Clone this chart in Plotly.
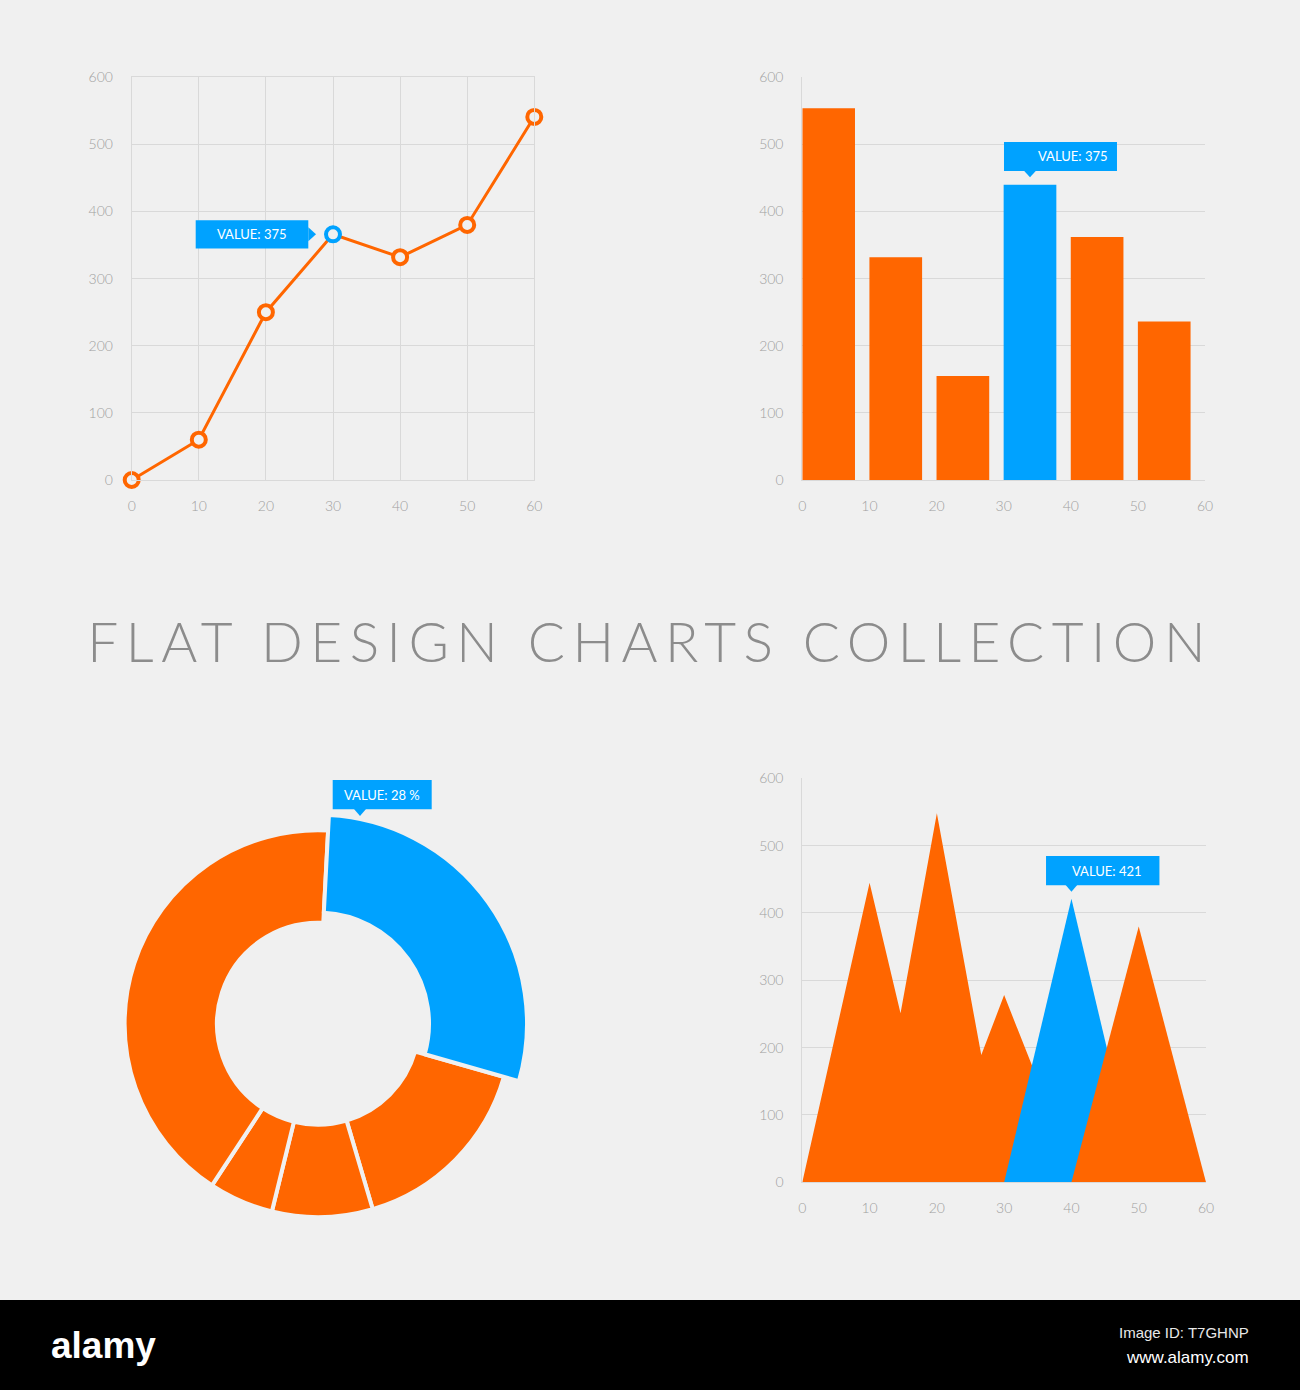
import plotly.graph_objects as go

W, H = 1300, 1390
BG = "#f0f0f0"
ORANGE = "#ff6600"
BLUE = "#00a2ff"
CLEAR = "rgba(0,0,0,0)"
GRID = "#d9d9d9"
TICK = "#a0a0a0"
FONT = "Lato"

# ---------------- data ----------------
x_ticks = [0, 10, 20, 30, 40, 50, 60]
y_ticks = [0, 100, 200, 300, 400, 500, 600]

line_x = [0, 10, 20, 30, 40, 50, 60]
line_y = [0, 60, 250, 366, 332, 380, 541]
line_hi = 3
line_label = "VALUE: 375"

bar_x = [0, 10, 20, 30, 40, 50]
bar_y = [554, 332, 155, 440, 362, 236]
bar_width = 7.85
bar_hi = 3
bar_label = "VALUE: 375"

donut_values = [28.6, 16.0, 8.4, 5.4, 41.6]
donut_hi = 0
donut_label = "VALUE: 28 %"

area1_x = [0, 10, 14.6, 20, 26.6, 30, 41]
area1_y = [0, 445, 251, 548, 189, 278, 0]
area2_x = [30, 40, 50]
area2_y = [0, 421, 0]
area3_x = [40, 50, 60]
area3_y = [0, 380, 0]
area_hi_x = 40
area_hi_y = 421
area_label = "VALUE: 421"

title_text = "FLAT DESIGN CHARTS COLLECTION"


def PX(x):
    return x / W


def PY(y):
    return 1 - y / H


tickfont = dict(family=FONT, size=14, color=TICK, weight=300)

fig = go.Figure()

# ---- chart 1 : line ----
fig.add_trace(go.Scatter(
    x=line_x, y=line_y, mode="lines+markers", xaxis="x", yaxis="y",
    line=dict(color=ORANGE, width=3),
    marker=dict(size=14, color=BG, symbol="circle",
                line=dict(width=4, color=[BLUE if i == line_hi else ORANGE for i in range(len(line_x))])),
    cliponaxis=False, hoverinfo="skip", showlegend=False))

# ---- chart 2 : bars ----
fig.add_trace(go.Bar(
    x=bar_x, y=bar_y, width=bar_width, offset=0, xaxis="x2", yaxis="y2",
    marker=dict(color=[BLUE if i == bar_hi else ORANGE for i in range(len(bar_x))], line=dict(width=0)),
    hoverinfo="skip", showlegend=False))

# ---- chart 3 : donut (base ring + enlarged highlighted ring) ----
cx, cy = 318, 1023.7
RA, RB = 193.4, 209.0
n = len(donut_values)
ring_base = dict(values=donut_values, sort=False, direction="clockwise", rotation=3,
                 textinfo="none", hoverinfo="skip", showlegend=False)
fig.add_trace(go.Pie(
    hole=101 / RA,
    marker=dict(colors=[CLEAR if i == donut_hi else ORANGE for i in range(n)],
                line=dict(color=BG, width=[0 if i == donut_hi else 4 for i in range(n)])),
    domain=dict(x=[PX(cx - RA), PX(cx + RA)], y=[PY(cy + RA), PY(cy - RA)]), **ring_base))
fig.add_trace(go.Pie(
    hole=111 / RB,
    marker=dict(colors=[BLUE if i == donut_hi else CLEAR for i in range(n)],
                line=dict(color=BG, width=[4 if i == donut_hi else 0 for i in range(n)])),
    domain=dict(x=[PX(cx - RB), PX(cx + RB)], y=[PY(cy + RB), PY(cy - RB)]), **ring_base))

# ---- chart 4 : area ----
for xs, ys, col in [(area1_x, area1_y, ORANGE), (area2_x, area2_y, BLUE), (area3_x, area3_y, ORANGE)]:
    fig.add_trace(go.Scatter(x=xs, y=ys, mode="none", fill="toself", fillcolor=col,
                             xaxis="x3", yaxis="y3", hoverinfo="skip", showlegend=False))

common_x = dict(range=[0, 60], tickvals=x_ticks, ticks="", tickfont=tickfont, zeroline=False,
                ticklabelstandoff=13, fixedrange=True, automargin=False)
common_y = dict(range=[0, 600], tickvals=y_ticks, ticks="", tickfont=tickfont, zeroline=False,
                ticklabelstandoff=15, fixedrange=True, automargin=False)

fig.update_layout(
    width=W, height=H, margin=dict(l=0, r=0, t=0, b=0, pad=0, autoexpand=False),
    paper_bgcolor=BG, plot_bgcolor="rgba(0,0,0,0)",
    font=dict(family=FONT),
    xaxis=dict(domain=[PX(131.7), PX(534.3)], anchor="y", showgrid=True, gridcolor=GRID,
               showline=True, mirror=True, linecolor=GRID, **common_x),
    yaxis=dict(domain=[PY(480), PY(77.3)], anchor="x", showgrid=True, gridcolor=GRID,
               showline=True, mirror=True, linecolor=GRID, **common_y),
    xaxis2=dict(domain=[PX(802.3), PX(1205)], anchor="y2", showgrid=False,
                showline=True, linecolor=GRID, **common_x),
    yaxis2=dict(domain=[PY(480), PY(77.3)], anchor="x2", showgrid=True, gridcolor=GRID,
                showline=True, linecolor=GRID, **common_y),
    xaxis3=dict(domain=[PX(802.3), PX(1206)], anchor="y3", showgrid=False,
                showline=True, linecolor=GRID, **common_x),
    yaxis3=dict(domain=[PY(1182.3), PY(778.3)], anchor="x3", showgrid=True, gridcolor=GRID,
                showline=True, linecolor=GRID, **common_y),
)

shapes = []
annos = []
lblfont = dict(family=FONT, size=13, color="white", weight=400)


def tip_rect(xref, yref, xa, ya, x0, x1, y0, y1):
    return dict(type="rect", xref=xref, yref=yref, xsizemode="pixel", ysizemode="pixel",
                xanchor=xa, yanchor=ya, x0=x0, x1=x1, y0=y0, y1=y1,
                fillcolor=BLUE, line=dict(width=0), layer="above")


def tip_path(xref, yref, xa, ya, path):
    return dict(type="path", xref=xref, yref=yref, xsizemode="pixel", ysizemode="pixel",
                xanchor=xa, yanchor=ya, path=path,
                fillcolor=BLUE, line=dict(width=0), layer="above")


# tooltip chart 1 (left of highlighted point)
hx, hy = line_x[line_hi], line_y[line_hi]
shapes.append(tip_rect("x", "y", hx, hy, -137.3, -24.7, -14.2, 14.2))
shapes.append(tip_path("x", "y", hx, hy, "M -24.7 7 L -17 0 L -24.7 -7 Z"))
annos.append(dict(xref="x", yref="y", x=hx, y=hy, xshift=-81, yshift=0, text=line_label,
                  showarrow=False, font=lblfont))

# tooltip chart 2 (above highlighted bar)
bx, by = bar_x[bar_hi] + bar_width / 2, bar_y[bar_hi]
shapes.append(tip_rect("x2", "y2", bx, by, -26, 87, 13.8, 42.8))
shapes.append(tip_path("x2", "y2", bx, by, "M -6 14 L 0 7.5 L 6 14 Z"))
annos.append(dict(xref="x2", yref="y2", x=bx, y=by, xshift=43, yshift=28.3, text=bar_label,
                  showarrow=False, font=lblfont))

# tooltip chart 4 (above blue peak)
shapes.append(tip_rect("x3", "y3", area_hi_x, area_hi_y, -25.4, 88, 13.5, 42.8))
shapes.append(tip_path("x3", "y3", area_hi_x, area_hi_y, "M -6 14 L 0 7 L 6 14 Z"))
annos.append(dict(xref="x3", yref="y3", x=area_hi_x, y=area_hi_y, xshift=35.6, yshift=27.8,
                  text=area_label, showarrow=False, font=lblfont))

# tooltip chart 3 (donut)
shapes.append(dict(type="rect", xref="paper", yref="paper", x0=PX(332.7), x1=PX(431.7),
                   y0=PY(809.3), y1=PY(780), fillcolor=BLUE, line=dict(width=0), layer="above"))
shapes.append(dict(type="path", xref="paper", yref="paper",
                   path=f"M {PX(354)} {PY(809)} L {PX(360)} {PY(816)} L {PX(366)} {PY(809)} Z",
                   fillcolor=BLUE, line=dict(width=0), layer="above"))
annos.append(dict(xref="paper", yref="paper", x=PX(381.7), y=PY(795), text=donut_label,
                  showarrow=False, font=lblfont, xanchor="center", yanchor="middle"))

# title
annos.append(dict(xref="paper", yref="paper", x=PX(650), y=PY(641), text=title_text,
                  showarrow=False, xanchor="center", yanchor="middle",
                  font=dict(family=FONT, size=55, color="#8c8c8c", weight=300)))

# footer band
FOOT = "Liberation Sans, Arial"
shapes.append(dict(type="rect", xref="paper", yref="paper", x0=0, x1=1, y0=0, y1=PY(1300),
                   fillcolor="black", line=dict(width=0), layer="above"))
annos.append(dict(xref="paper", yref="paper", x=PX(49), y=PY(1345), text="<b>alamy</b>",
                  showarrow=False, xanchor="left", yanchor="middle",
                  font=dict(family=FOOT, size=37, color="white")))
annos.append(dict(xref="paper", yref="paper", x=PX(1251), y=PY(1332), text="Image ID: T7GHNP",
                  showarrow=False, xanchor="right", yanchor="middle",
                  font=dict(family=FOOT, size=15, color="#e8e8e8")))
annos.append(dict(xref="paper", yref="paper", x=PX(1251), y=PY(1357), text="www.alamy.com",
                  showarrow=False, xanchor="right", yanchor="middle",
                  font=dict(family=FOOT, size=17, color="white")))

fig.update_layout(shapes=shapes, annotations=annos)

post = """
var de=document.documentElement, bd=document.body;
de.style.margin='0'; de.style.padding='0'; de.style.overflow='hidden';
bd.style.margin='0'; bd.style.padding='0'; bd.style.overflow='hidden';
var gd=document.getElementById('{plot_id}');
function ls(){ document.querySelectorAll('text.annotation-text').forEach(function(t){ if(t.textContent==='FLAT DESIGN CHARTS COLLECTION'){ t.style.letterSpacing='7.5px'; } }); }
ls(); if(gd && gd.on){ gd.on('plotly_afterplot', ls); }
"""
fig.write_html("out.html", config=dict(displayModeBar=False), post_script=post)
